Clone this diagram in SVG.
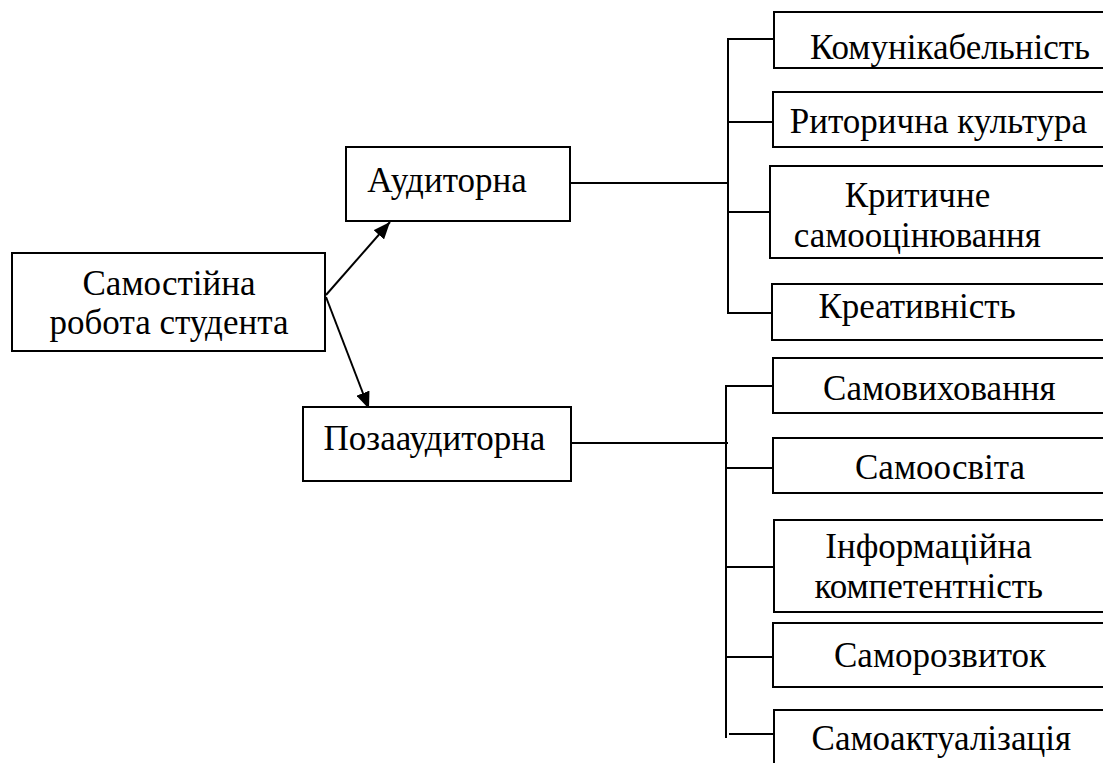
<svg xmlns="http://www.w3.org/2000/svg" width="1103" height="763" viewBox="0 0 1103 763">
<style>
.box{fill:#fff;stroke:#000;stroke-width:2}
.t{font-family:'Liberation Serif','DejaVu Serif',serif;font-size:35px;fill:#000;text-anchor:middle}
.ln{stroke:#000;stroke-width:2;fill:none}
</style>
<defs>
<marker id="ah" markerUnits="userSpaceOnUse" markerWidth="18" markerHeight="14" refX="17" refY="7" orient="auto">
<path d="M0,0 L17,7 L0,14 z" fill="#000"/>
</marker>
</defs>
<rect width="1103" height="763" fill="#fff"/>
<g id="connectors">
<line class="ln" x1="326" y1="295" x2="390" y2="222" marker-end="url(#ah)"/>
<line class="ln" x1="326" y1="297" x2="369" y2="409" marker-end="url(#ah)"/>
<line class="ln" x1="570" y1="183" x2="728" y2="183"/>
<line class="ln" x1="728" y1="38" x2="728" y2="314"/>
<line class="ln" x1="728" y1="39" x2="774" y2="39"/>
<line class="ln" x1="728" y1="122" x2="773" y2="122"/>
<line class="ln" x1="728" y1="212" x2="770" y2="212"/>
<line class="ln" x1="728" y1="313" x2="772" y2="313"/>
<line class="ln" x1="571" y1="443" x2="728" y2="443"/>
<line class="ln" x1="726" y1="385" x2="726" y2="738"/>
<line class="ln" x1="726" y1="386" x2="773" y2="386"/>
<line class="ln" x1="726" y1="468" x2="773" y2="468"/>
<line class="ln" x1="726" y1="567" x2="774" y2="567"/>
<line class="ln" x1="726" y1="657" x2="773" y2="657"/>
<line class="ln" x1="729" y1="734" x2="774" y2="734"/>
</g>
<g id="n-main"><rect class="box" x="12" y="253" width="313" height="98"/><text class="t" x="169" y="295">Самостійна</text><text class="t" x="169" y="334">робота студента</text></g>
<g id="n-aud"><rect class="box" x="346" y="147" width="224" height="74"/><text class="t" x="447" y="192">Аудиторна</text></g>
<g id="n-poza"><rect class="box" x="303" y="407" width="268" height="74"/><text class="t" x="434.5" y="450">Позааудиторна</text></g>
<g id="n-komun"><rect class="box" x="774" y="12" width="340" height="56"/><text class="t" x="950" y="59">Комунікабельність</text></g>
<g id="n-ryt"><rect class="box" x="773" y="92" width="340" height="55"/><text class="t" x="938.5" y="133">Риторична культура</text></g>
<g id="n-kryt"><rect class="box" x="770" y="166" width="340" height="92"/><text class="t" x="917.5" y="207">Критичне</text><text class="t" x="917.3" y="247">самооцінювання</text></g>
<g id="n-kreat"><rect class="box" x="772" y="284" width="340" height="56"/><text class="t" x="917" y="318">Креативність</text></g>
<g id="n-samovyh"><rect class="box" x="773" y="358" width="340" height="55"/><text class="t" x="939.4" y="400">Самовиховання</text></g>
<g id="n-samoosv"><rect class="box" x="773" y="438" width="340" height="55"/><text class="t" x="940" y="479">Самоосвіта</text></g>
<g id="n-inform"><rect class="box" x="774" y="520" width="340" height="92"/><text class="t" x="928.5" y="558">Інформаційна</text><text class="t" x="928.7" y="598">компетентність</text></g>
<g id="n-samorozv"><rect class="box" x="773" y="623" width="340" height="64"/><text class="t" x="940" y="667">Саморозвиток</text></g>
<g id="n-samoakt"><rect class="box" x="774" y="710" width="340" height="70"/><text class="t" x="941.3" y="750">Самоактуалізація</text></g>
</svg>
